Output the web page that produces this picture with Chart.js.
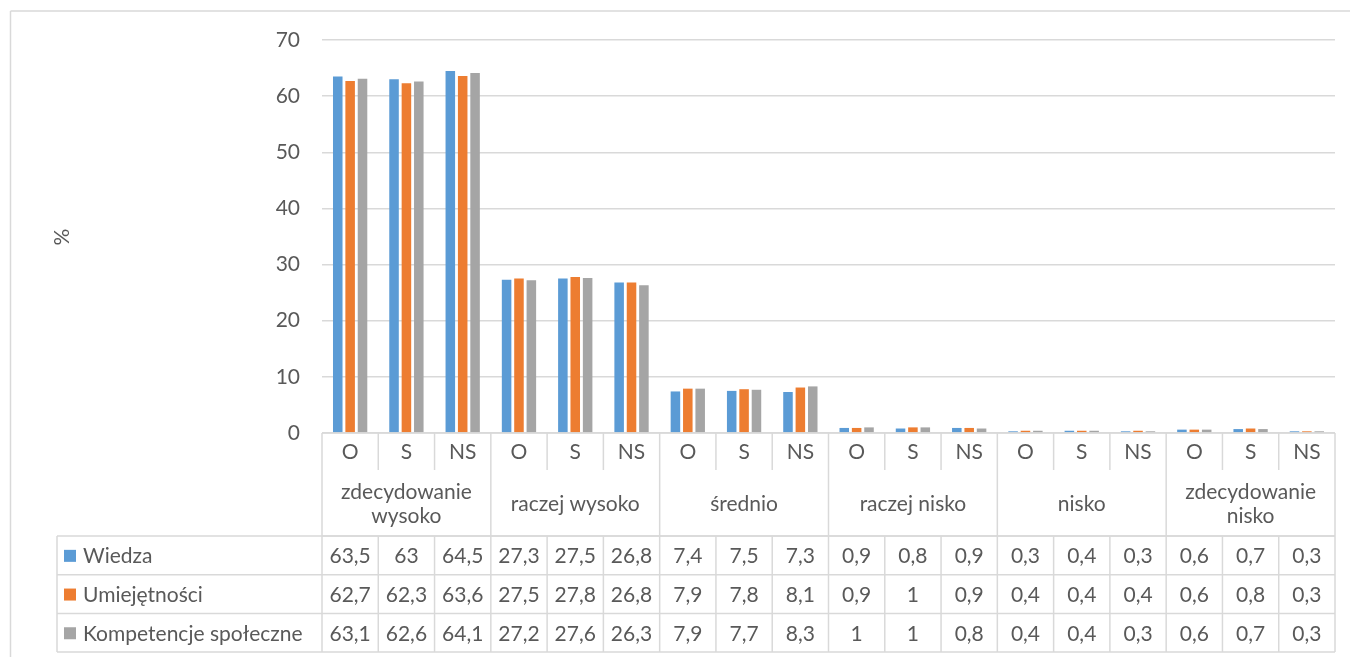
<!DOCTYPE html>
<html>
<head>
<meta charset="utf-8">
<script src="https://cdn.jsdelivr.net/npm/chart.js@4.4.0/dist/chart.umd.min.js"></script>
<style>
  html, body { margin: 0; padding: 0; background: #fff; }
  #wrap { position: relative; width: 1350px; height: 657px; }
</style>
</head>
<body>
<div id="wrap"><canvas id="c" width="1350" height="657"></canvas></div>
<script>
const groups = [["zdecydowanie", "wysoko"], ["raczej wysoko"], ["średnio"], ["raczej nisko"], ["nisko"], ["zdecydowanie", "nisko"]];
const subLabels = ["O", "S", "NS"];
const categories = ["O","S","NS","O","S","NS","O","S","NS","O","S","NS","O","S","NS","O","S","NS"];
const seriesNames = ["Wiedza", "Umiejętności", "Kompetencje społeczne"];
const wiedza =       [63.5, 63, 64.5, 27.3, 27.5, 26.8, 7.4, 7.5, 7.3, 0.9, 0.8, 0.9, 0.3, 0.4, 0.3, 0.6, 0.7, 0.3];
const umiejetnosci = [62.7, 62.3, 63.6, 27.5, 27.8, 26.8, 7.9, 7.8, 8.1, 0.9, 1, 0.9, 0.4, 0.4, 0.4, 0.6, 0.8, 0.3];
const kompetencje =  [63.1, 62.6, 64.1, 27.2, 27.6, 26.3, 7.9, 7.7, 8.3, 1, 1, 0.8, 0.4, 0.4, 0.3, 0.6, 0.7, 0.3];
const colors = ["#5B9BD5", "#ED7D31", "#A5A5A5"];
const yTicks = [0, 10, 20, 30, 40, 50, 60, 70];

const FONT = "Lato, 'Open Sans', sans-serif";
const FS = 21;
const TXT = "#595959";
const LINE = "#D9D9D9";

const fmt = v => String(v).replace(".", ",");

const tablePlugin = {
  id: "tablePlugin",
  afterDraw(chart) {
    const ctx = chart.ctx;
    const xs = chart.scales.x;
    const area = chart.chartArea;
    const n = categories.length;
    const cw = (area.right - area.left) / n;
    const left = area.left, right = area.right;
    const top = area.bottom;          // 433
    const subBottom = top + 37;       // 470
    const grpBottom = top + 103;      // 536
    const rowH = 38.7;
    const tableLeft = 57;
    const tableBottom = grpBottom + rowH * 3;

    ctx.save();
    ctx.strokeStyle = LINE;
    ctx.lineWidth = 1.5;
    const line = (x1, y1, x2, y2) => { ctx.beginPath(); ctx.moveTo(x1, y1); ctx.lineTo(x2, y2); ctx.stroke(); };

    // outer chart border
    line(10.5, 11, 1350, 11);
    line(10.5, 11, 10.5, 657);

    // horizontal lines
    line(left, top, right, top);
    line(left, grpBottom, right, grpBottom);
    for (let r = 0; r <= 3; r++) {
      const y = grpBottom + rowH * r;
      line(tableLeft, y, right, y);
    }
    // vertical lines
    line(tableLeft, grpBottom, tableLeft, tableBottom);
    for (let i = 0; i <= n; i++) {
      const x = left + cw * i;
      if (i % 3 === 0) {
        line(x, top, x, tableBottom);
      } else {
        line(x, top, x, subBottom);
        line(x, grpBottom, x, tableBottom);
      }
    }

    ctx.fillStyle = TXT;
    ctx.font = FS + "px " + FONT;
    ctx.textAlign = "center";
    ctx.textBaseline = "middle";
    // sub labels
    for (let i = 0; i < n; i++) {
      const cx = xs.getPixelForValue(i);
      ctx.fillText(categories[i], cx, (top + subBottom) / 2 + 1);
    }
    // group labels
    for (let g = 0; g < groups.length; g++) {
      const cx = left + cw * (g * 3 + 1.5);
      const lines = groups[g];
      const lh = 24;
      const cy = (subBottom + grpBottom) / 2 + 1;
      lines.forEach((t, k) => {
        ctx.fillText(t, cx, cy + (k - (lines.length - 1) / 2) * lh);
      });
    }
    // data rows
    const data = [wiedza, umiejetnosci, kompetencje];
    for (let r = 0; r < 3; r++) {
      const cy = grpBottom + rowH * (r + 0.5) + 1;
      ctx.textAlign = "center";
      for (let i = 0; i < n; i++) {
        ctx.fillText(fmt(data[r][i]), xs.getPixelForValue(i), cy);
      }
      ctx.fillStyle = colors[r];
      ctx.fillRect(64, cy - 6.5, 12, 12);
      ctx.fillStyle = TXT;
      ctx.textAlign = "left";
      ctx.fillText(seriesNames[r], 83, cy);
    }

    // % axis title
    ctx.save();
    ctx.translate(62, 237);
    ctx.rotate(-Math.PI / 2);
    ctx.textAlign = "center";
    ctx.fillText("%", 0, 0);
    ctx.restore();

    ctx.restore();
  }
};

new Chart(document.getElementById("c"), {
  type: "bar",
  data: {
    labels: categories,
    datasets: [
      { label: seriesNames[0], data: wiedza, backgroundColor: colors[0] },
      { label: seriesNames[1], data: umiejetnosci, backgroundColor: colors[1] },
      { label: seriesNames[2], data: kompetencje, backgroundColor: colors[2] }
    ]
  },
  options: {
    responsive: false,
    animation: false,
    devicePixelRatio: 1,
    layout: { padding: { left: 0, top: 40, right: 15, bottom: 224 } },
    plugins: { legend: { display: false }, tooltip: { enabled: false } },
    datasets: { bar: { categoryPercentage: 0.66, barPercentage: 0.77 } },
    scales: {
      x: { display: false },
      y: {
        min: 0, max: 70,
        afterFit(scale) { scale.width = 322; },
        afterBuildTicks(scale) { scale.ticks = yTicks.map(v => ({ value: v })); },
        border: { display: false },
        grid: { color: LINE, lineWidth: 1.5, drawTicks: false },
        ticks: { padding: 22, color: TXT, font: { family: FONT, size: FS } }
      }
    }
  },
  plugins: [tablePlugin]
});
</script>
</body>
</html>
